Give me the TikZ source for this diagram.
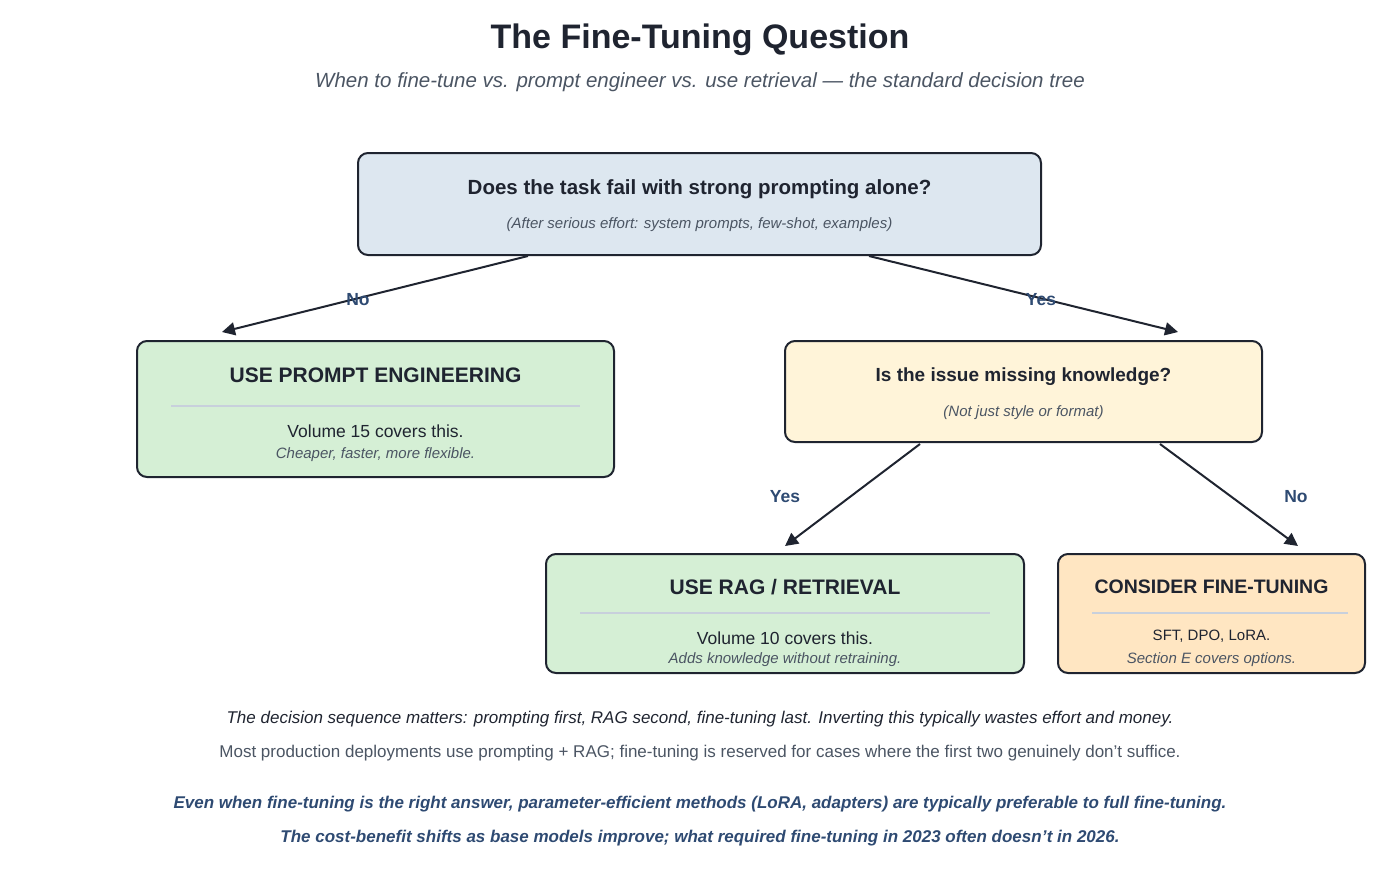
\documentclass[tikz,border=0pt]{standalone}
\usepackage{fontspec}
\setmainfont{Liberation Sans}
\usetikzlibrary{arrows.meta}
\definecolor{ink}{HTML}{1F2430}
\definecolor{gr}{HTML}{4B5563}
\definecolor{lab}{HTML}{2E4A72}
\definecolor{bl}{HTML}{DDE7F0}
\definecolor{gn}{HTML}{D5EFD5}
\definecolor{cr}{HTML}{FFF4D9}
\definecolor{or}{HTML}{FFE6C2}
\definecolor{sep}{HTML}{C8D0DC}
\begin{document}
\begin{tikzpicture}[x=1pt,y=-1pt,
 box/.style={draw=ink,line width=2pt,rounded corners=10pt,inner sep=0pt},
 arr/.style={draw=ink,line width=2pt,-{Triangle[length=13pt,width=13pt]}},
 lbl/.style={text=lab,font=\fontsize{17.5}{20}\selectfont\bfseries},
 head/.style={text=ink,font=\fontsize{21}{24}\selectfont\bfseries},
 sub/.style={text=gr,font=\fontsize{15}{18}\selectfont\itshape},
 sepl/.style={draw=sep,line width=2pt}]
\useasboundingbox (0,0) rectangle (1400,887);
\node[text=ink,font=\fontsize{34}{40}\selectfont\bfseries] (title) at (700,40) {The Fine-Tuning Question};
\node[text=gr,font=\fontsize{20.5}{24}\selectfont\itshape] (subt) at (700,82) {When to fine-tune vs. prompt engineer vs. use retrieval — the standard decision tree};
\draw[box,fill=bl] (358,153) rectangle (1041,255);
\coordinate (q1a) at (528,256); \coordinate (q1b) at (869,256);
\node[head,font=\fontsize{20.5}{24}\selectfont\bfseries] (q1) at (699.5,189) {Does the task fail with strong prompting alone?};
\node[sub] (q1s) at (699.5,225) {(After serious effort: system prompts, few-shot, examples)};
\draw[box,fill=gn] (137,341) rectangle (614,477);
\node[head] (pe) at (375.5,375) {USE PROMPT ENGINEERING};
\draw[sepl] (171,406) -- (580,406);
\node[text=ink,font=\fontsize{17.5}{20}\selectfont] (pe1) at (375.5,431) {Volume 15 covers this.};
\node[sub] (pe2) at (375.5,455) {Cheaper, faster, more flexible.};
\draw[box,fill=cr] (785,341) rectangle (1262,442);
\node[head,font=\fontsize{19}{22}\selectfont\bfseries] (q2) at (1023.5,377) {Is the issue missing knowledge?};
\node[sub] (q2s) at (1023.5,413) {(Not just style or format)};
\draw[box,fill=gn] (546,554) rectangle (1024,673);
\node[head] (rag) at (785,587) {USE RAG / RETRIEVAL};
\draw[sepl] (580,613) -- (990,613);
\node[text=ink,font=\fontsize{17.5}{20}\selectfont] (rag1) at (785,638) {Volume 10 covers this.};
\node[sub] (rag2) at (785,660) {Adds knowledge without retraining.};
\draw[box,fill=or] (1058,554) rectangle (1365,673);
\node[head,font=\fontsize{19.5}{23}\selectfont\bfseries] (ft) at (1211.5,587) {CONSIDER FINE-TUNING};
\draw[sepl] (1092,613) -- (1348,613);
\node[text=ink,font=\fontsize{15}{18}\selectfont] (ft1) at (1211.5,636) {SFT, DPO, LoRA.};
\node[sub] (ft2) at (1211.5,660) {Section E covers options.};
\coordinate (a1) at (222,332); \coordinate (a2) at (1178,332);
\coordinate (q2a) at (920,444); \coordinate (q2b) at (1160,444);
\coordinate (a3) at (785,546); \coordinate (a4) at (1298,546);
\draw[arr] (q1a) -- (a1);
\draw[arr] (q1b) -- (a2);
\draw[arr] (q2a) -- (a3);
\draw[arr] (q2b) -- (a4);
\node[lbl] (n1) at (358,300) {No};
\node[lbl] (y1) at (1041,300) {Yes};
\node[lbl] (y2) at (785,497) {Yes};
\node[lbl] (n2) at (1296,497) {No};
\node[text=ink,font=\fontsize{17}{20}\selectfont\itshape] (f1) at (700,719) {The decision sequence matters: prompting first, RAG second, fine-tuning last. Inverting this typically wastes effort and money.};
\node[text=gr,font=\fontsize{17}{20}\selectfont] (f2) at (700,753) {Most production deployments use prompting + RAG; fine-tuning is reserved for cases where the first two genuinely don’t suffice.};
\node[text=lab,font=\fontsize{17}{20}\selectfont\bfseries\itshape] (f3) at (700,804) {Even when fine-tuning is the right answer, parameter-efficient methods (LoRA, adapters) are typically preferable to full fine-tuning.};
\node[text=lab,font=\fontsize{17}{20}\selectfont\bfseries\itshape] (f4) at (700,838) {The cost-benefit shifts as base models improve; what required fine-tuning in 2023 often doesn’t in 2026.};
\end{tikzpicture}
\end{document}
